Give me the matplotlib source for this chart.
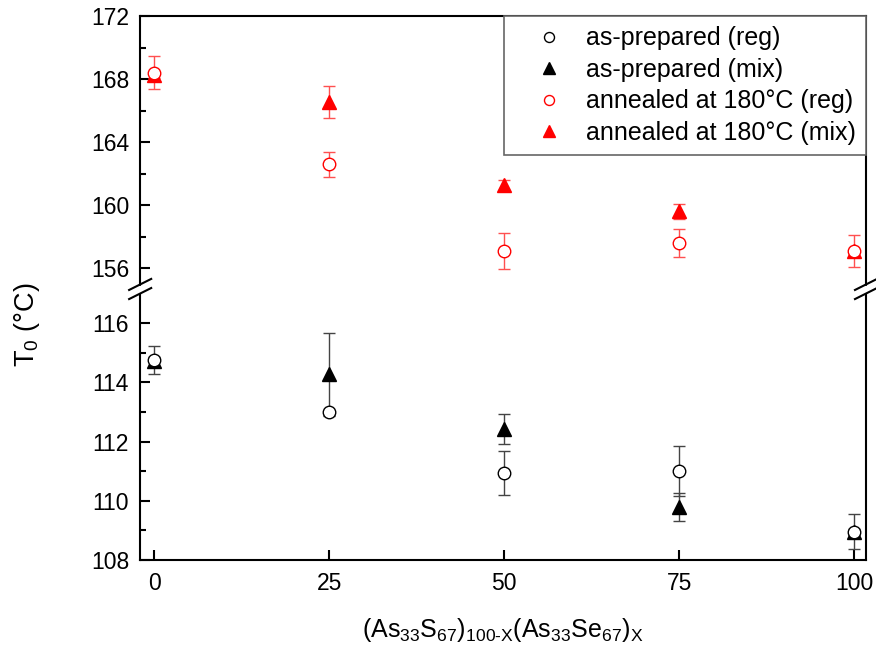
import numpy as np
import matplotlib.pyplot as plt

plt.rcParams['font.family'] = ['Liberation Sans', 'DejaVu Sans']
plt.rcParams['mathtext.fontset'] = 'custom'
plt.rcParams['mathtext.rm'] = 'Liberation Sans'
plt.rcParams['mathtext.it'] = 'Liberation Sans'

x = [0, 25, 50, 75, 100]

# as-prepared
prep_reg = [114.76, 112.99, 110.93, 111.0, 108.96]
prep_reg_err = [0.46, 0.08, 0.75, 0.85, 0.6]
prep_mix = [114.72, 114.28, 112.42, 109.8, 108.95]
prep_mix_err = [0.15, 1.4, 0.5, 0.47, 0.1]

# annealed at 180 C
ann_reg = [168.4, 162.6, 157.08, 157.6, 157.08]
ann_reg_err = [1.05, 0.8, 1.15, 0.9, 1.0]
ann_mix = [168.25, 166.56, 161.25, 159.6, 157.1]
ann_mix_err = [0.15, 1.0, 0.35, 0.5, 0.1]

L, W = 0.16, 0.8286
brk = 0.5554
fig = plt.figure(figsize=(8.76, 6.5), dpi=100)
ax_top = fig.add_axes([L, brk, W, 0.975 - brk])
ax_bot = fig.add_axes([L, 0.1385, W, brk - 0.1385])

red = '#ff0000'
red_err = '#ff5050'
blk_err = '#444444'

def draw(ax, y, e, marker, color, ecolor, filled, label, ms):
    ax.errorbar(x, y, yerr=e, fmt=marker, ms=ms, mec=color,
                mfc=color if filled else 'white', mew=1.0,
                ecolor=ecolor, elinewidth=1.0, capsize=4, capthick=1.0,
                label=label, zorder=3)

for ax in (ax_top, ax_bot):
    draw(ax, prep_mix, prep_mix_err, '^', 'black', blk_err, True, 'as-prepared (mix)', 10)
    draw(ax, prep_reg, prep_reg_err, 'o', 'black', blk_err, False, 'as-prepared (reg)', 9)
    draw(ax, ann_mix, ann_mix_err, '^', red, red_err, True, 'annealed at 180°C (mix)', 10)
    draw(ax, ann_reg, ann_reg_err, 'o', red, red_err, False, 'annealed at 180°C (reg)', 9)
    ax.set_xlim(-2, 101.7)
    for s in ax.spines.values():
        s.set_linewidth(1.5)
    ax.tick_params(direction='in', which='major', length=7, width=1.5, labelsize=16.5, pad=8)
    ax.tick_params(direction='in', which='minor', length=4, width=1.5)

ax_top.set_ylim(154.67, 172)
ax_top.set_yticks([156, 160, 164, 168, 172])
ax_top.set_yticks([158, 162, 166, 170], minor=True)
ax_top.spines['bottom'].set_visible(False)
ax_top.tick_params(axis='x', which='both', bottom=False, labelbottom=False)

ax_bot.set_ylim(108, 117.16)
ax_bot.set_yticks([108, 110, 112, 114, 116])
ax_bot.set_yticks([109, 111, 113, 115], minor=True)
ax_bot.spines['top'].set_visible(False)
ax_bot.set_xticks(x)
ax_bot.tick_params(axis='x', pad=9)

# break marks
dx, dy = 0.0126, 0.0085
for xs in (L, L + W):
    fig.add_artist(plt.Rectangle((xs - 0.004, brk - 0.005), 0.008, 0.01,
                                 color='white', zorder=2))
    for off in (-0.007, 0.007):
        fig.add_artist(plt.Line2D([xs - dx, xs + dx],
                                  [brk + off - dy, brk + off + dy],
                                  color='black', lw=1.5, zorder=3))

handles, labels = ax_top.get_legend_handles_labels()
order = [1, 0, 3, 2]
handles = [h[0] for h in handles]
leg = ax_top.legend([handles[i] for i in order], [labels[i] for i in order],
                    loc='upper right', fontsize=18, frameon=True, fancybox=False,
                    edgecolor='#666666', borderaxespad=0.0, handletextpad=0.1,
                    handlelength=2.8, labelspacing=0.3, borderpad=0.4,
                    markerscale=0.8, framealpha=1)
leg.get_frame().set_linewidth(1.2)

ax_bot.set_xlabel('(As$_{33}$S$_{67}$)$_{100\\text{-}X}$(As$_{33}$Se$_{67}$)$_X$',
                  fontsize=18, labelpad=15)
fig.text(0.031, 0.5, 'T$_0$ (°C)', rotation=90, fontsize=19.5, va='center', ha='center')

fig.savefig('out.png', dpi=100)
